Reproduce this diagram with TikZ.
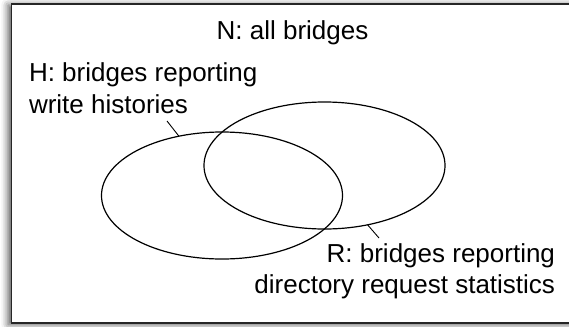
\documentclass[tikz,border=0pt]{standalone}
\usepackage{fontspec}
\setmainfont{Liberation Sans}
\usetikzlibrary{shapes.geometric,shadows.blur}
\begin{document}
\begin{tikzpicture}[x=1pt,y=-1pt,
  lbl/.style={inner sep=0pt,outer sep=0pt,font=\fontsize{26}{31}\selectfont,text=black},
  setshape/.style={ellipse,draw=black,line width=1.2pt,inner sep=0pt,outer sep=0pt,
    minimum width=241pt,minimum height=127pt},
  leader/.style={draw=black,line width=0.9pt},
  frame/.style={draw=black!85,line width=1.6pt,fill=white,
    blur shadow={shadow xshift=-3pt,shadow yshift=-1.5pt,shadow blur radius=7pt,shadow opacity=70}}]
\useasboundingbox (0,0) rectangle (569,326);
\node[frame,inner sep=0pt,minimum width=570pt,minimum height=319pt,anchor=north west] (F) at (10.5,3) {};
\node[setshape] (H) at (222,195.5) {};
\node[setshape] (R) at (324.5,165.5) {};
\node[lbl,anchor=base] (N) at (292.5,40) {N: all bridges};
\node[lbl,anchor=base west] (H1) at (29,82) {H: bridges reporting};
\node[lbl,anchor=base west] (H2) at (29,113) {write histories};
\node[lbl,anchor=base east] (R1) at (555,262) {R: bridges reporting};
\node[lbl,anchor=base east] (R2) at (555,293) {directory request statistics};
\coordinate (Hend) at (167,121);
\coordinate (Rend) at (379,238);
\draw[leader] (Hend) -- (H.126);
\draw[leader] (R.-54) -- (Rend);
\end{tikzpicture}
\end{document}
